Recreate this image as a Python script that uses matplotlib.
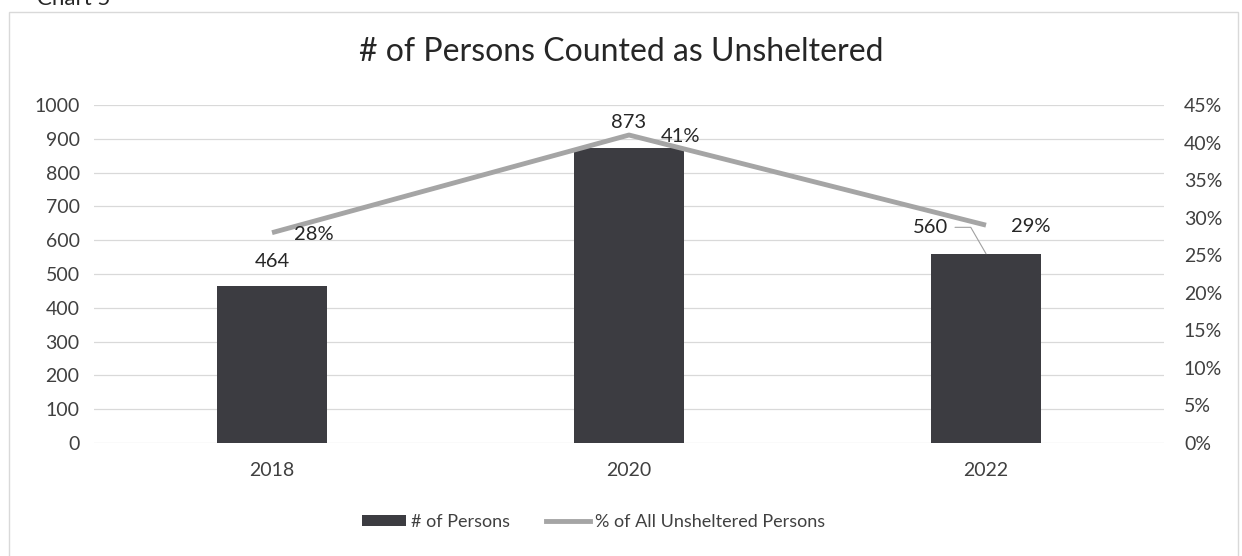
import matplotlib.pyplot as plt
from matplotlib.patches import Rectangle
from matplotlib.lines import Line2D
from matplotlib.patches import Patch
import numpy as np

years = ['2018', '2020', '2022']
persons = [464, 873, 560]
pct_unsheltered = [28, 41, 29]

bar_color = '#3c3c41'
line_color = '#a5a5a5'
text_color = '#262626'
grid_color = '#d9d9d9'

plt.rcParams['font.family'] = ['Lato', 'DejaVu Sans']

fig = plt.figure(figsize=(12.42, 5.56), dpi=100)
ax = fig.add_axes([0.0753, 0.2032, 0.8623, 0.608])
ax2 = ax.twinx()

x = np.arange(len(years))
ax.bar(x, persons, width=0.31, color=bar_color, zorder=2)
ax.set_xlim(-0.5, len(years) - 0.5)
ax.set_ylim(0, 1000)
ax.set_yticks(range(0, 1001, 100))
ax.yaxis.grid(color=grid_color, linewidth=0.9, zorder=0)
ax.set_axisbelow(True)
ax.set_xticks(x)
ax.set_xticklabels(years)

ax2.plot(x, pct_unsheltered, color=line_color, linewidth=3.5,
         solid_capstyle='butt', zorder=3)
ax2.set_ylim(0, 45)
ax2.set_yticks(range(0, 46, 5))
ax2.set_yticklabels([str(v) + '%' for v in range(0, 46, 5)])

for a in (ax, ax2):
    for s in a.spines.values():
        s.set_visible(False)
    a.tick_params(length=0, labelsize=14, colors='#404040')
ax.tick_params(axis='y', pad=10)
ax.tick_params(axis='x', pad=14)
ax2.tick_params(axis='y', pad=14)

# data labels
for i in range(len(years)):
    if i == 2:
        # 560 label was dragged left, Excel draws a leader line
        ax.annotate(str(persons[i]), (x[i], persons[i]), xytext=(-40, 19),
                    textcoords='offset points', ha='center', va='center',
                    fontsize=14.5, color=text_color,
                    arrowprops=dict(arrowstyle='-', color='#a0a0a0', lw=0.8,
                                    shrinkA=3, shrinkB=0,
                                    connectionstyle='angle,angleA=0,angleB=120,rad=0'))
    else:
        ax.annotate(str(persons[i]), (x[i], persons[i]), xytext=(0, 18),
                    textcoords='offset points', ha='center', va='center',
                    fontsize=14.5, color=text_color)
offsets = [30, 37, 32]
for i in range(len(years)):
    ax2.annotate(str(pct_unsheltered[i]) + '%', (x[i], pct_unsheltered[i]),
                 xytext=(offsets[i], -1), textcoords='offset points',
                 ha='center', va='center', fontsize=14.5, color=text_color)

fig.text(0.5, 0.906, '# of Persons Counted as Unsheltered', ha='center',
         va='center', fontsize=23, color=text_color)
fig.text(0.03, 0.991, 'Chart 5', ha='left', va='baseline', fontsize=16,
         color=text_color)

fig.patches.append(Rectangle((0.007, -0.05), 0.99, 1.028,
                             transform=fig.transFigure, fill=False,
                             edgecolor='#d9d9d9', linewidth=1))

handles = [Patch(facecolor=bar_color, label='# of Persons'),
           Line2D([0], [0], color=line_color, linewidth=3.5,
                  label='% of All Unsheltered Persons')]
fig.legend(handles=handles, loc='center', bbox_to_anchor=(0.478, 0.061),
           ncol=2, frameon=False, fontsize=13, handlelength=2.4,
           handleheight=0.6, handletextpad=0.3, columnspacing=2.0,
           labelcolor='#404040')

fig.savefig('out.png', dpi=100)
